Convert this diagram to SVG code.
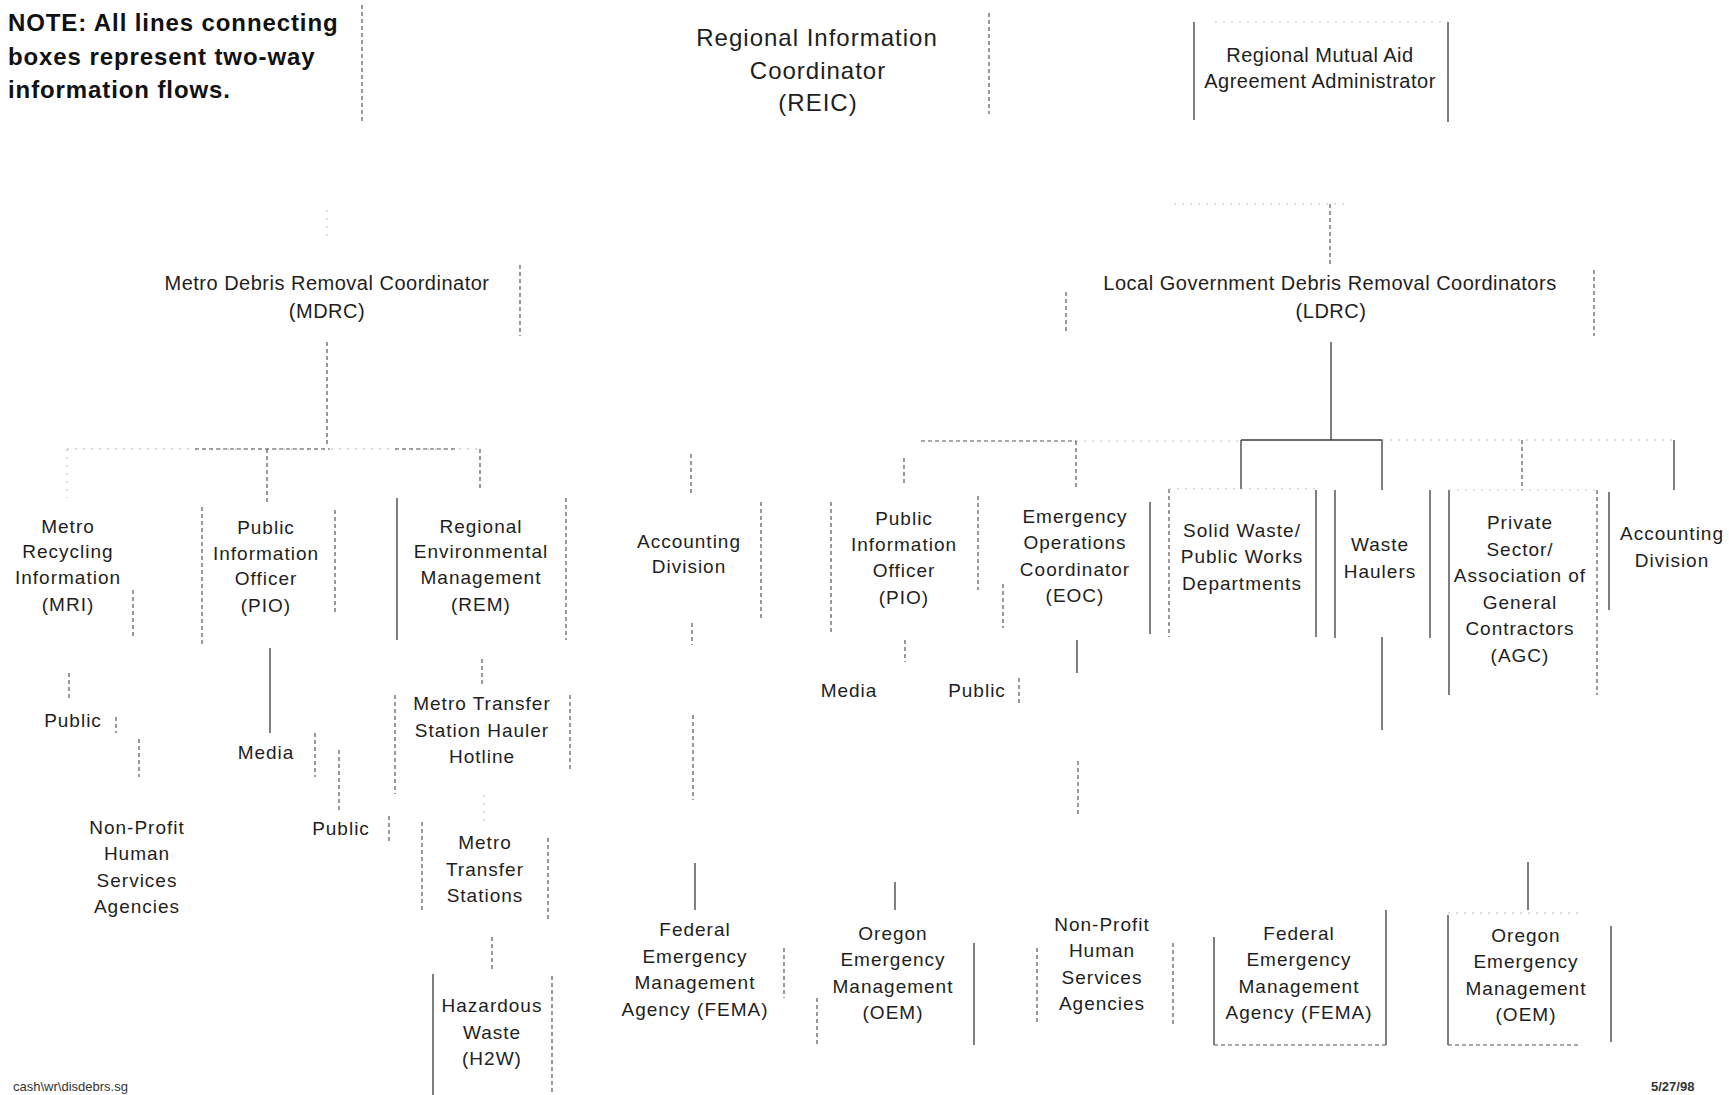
<svg xmlns="http://www.w3.org/2000/svg" width="1729" height="1095" viewBox="0 0 1729 1095">
<style>
.t{font-family:"Liberation Sans",Arial,sans-serif;font-size:19px;letter-spacing:1px;fill:#1e1e1e;text-anchor:middle}
.m{font-size:20px;letter-spacing:0.5px}
.l{font-size:24px;letter-spacing:1px}
.note{font-family:"Liberation Sans",Arial,sans-serif;font-size:24px;font-weight:bold;letter-spacing:0.9px;fill:#111}
.foot{font-family:"Liberation Sans",Arial,sans-serif;font-size:13px;fill:#333}
.e{stroke:#3a3a3a;stroke-width:1.3;fill:none}
.d{stroke:#555;stroke-width:1.2;stroke-dasharray:4 3;fill:none}
.f{stroke:#bbb;stroke-width:1;stroke-dasharray:2 6;fill:none}
</style>
<rect width="1729" height="1095" fill="#fff"/>

<g id="connectors">
<line class="f" x1="327" y1="210" x2="327" y2="240"/>
<line class="d" x1="1330" y1="204" x2="1330" y2="265"/>
<line class="f" x1="1174" y1="204" x2="1345" y2="204"/>
<line class="d" x1="327" y1="342" x2="327" y2="447"/>
<line class="f" x1="67" y1="449" x2="480" y2="449"/>
<line class="d" x1="195" y1="449" x2="330" y2="449"/>
<line class="d" x1="395" y1="449" x2="458" y2="449"/>
<line class="f" x1="67" y1="449" x2="67" y2="498"/>
<line class="d" x1="267" y1="449" x2="267" y2="502"/>
<line class="d" x1="480" y1="449" x2="480" y2="490"/>
<line class="e" x1="1331" y1="342" x2="1331" y2="440"/>
<line class="e" x1="1241" y1="440" x2="1382" y2="440"/>
<line class="e" x1="1241" y1="440" x2="1241" y2="489"/>
<line class="e" x1="1382" y1="440" x2="1382" y2="490"/>
<line class="f" x1="1382" y1="440" x2="1674" y2="440"/>
<line class="d" x1="1522" y1="440" x2="1522" y2="490"/>
<line class="e" x1="1674" y1="440" x2="1674" y2="490"/>
<line class="f" x1="1076" y1="441" x2="1241" y2="441"/>
<line class="d" x1="921" y1="441" x2="1076" y2="441"/>
<line class="d" x1="904" y1="458" x2="904" y2="485"/>
<line class="d" x1="1076" y1="441" x2="1076" y2="488"/>
<line class="d" x1="691" y1="454" x2="691" y2="496"/>
<line class="e" x1="270" y1="648" x2="270" y2="733"/>
<line class="d" x1="339" y1="750" x2="339" y2="812"/>
<line class="d" x1="69" y1="673" x2="69" y2="700"/>
<line class="d" x1="139" y1="739" x2="139" y2="777"/>
<line class="d" x1="482" y1="659" x2="482" y2="684"/>
<line class="f" x1="484" y1="795" x2="484" y2="822"/>
<line class="d" x1="492" y1="937" x2="492" y2="970"/>
<line class="d" x1="692" y1="623" x2="692" y2="645"/>
<line class="d" x1="693" y1="715" x2="693" y2="800"/>
<line class="e" x1="695" y1="863" x2="695" y2="910"/>
<line class="d" x1="905" y1="640" x2="905" y2="662"/>
<line class="e" x1="1077" y1="640" x2="1077" y2="673"/>
<line class="d" x1="1078" y1="761" x2="1078" y2="816"/>
<line class="e" x1="1382" y1="637" x2="1382" y2="730"/>
<line class="e" x1="895" y1="882" x2="895" y2="910"/>
<line class="e" x1="1528" y1="862" x2="1528" y2="910"/>
</g>

<g id="note">
<text class="note" x="8" y="31">NOTE: All lines connecting</text>
<text class="note" x="8" y="65">boxes represent two-way</text>
<text class="note" x="8" y="98">information flows.</text>
<line class="d" x1="362" y1="5" x2="362" y2="121"/>
</g>

<g id="reic">
<text class="t l" x="817" y="46">Regional Information</text>
<text class="t l" x="818" y="79">Coordinator</text>
<text class="t l" x="818" y="111">(REIC)</text>
<line class="d" x1="989" y1="13" x2="989" y2="114"/>
</g>

<g id="rmaa">
<line class="e" x1="1194" y1="22" x2="1194" y2="120"/>
<line class="e" x1="1448" y1="22" x2="1448" y2="122"/>
<line class="f" x1="1215" y1="22" x2="1448" y2="22"/>
<text class="t m" x="1320" y="62">Regional Mutual Aid</text>
<text class="t m" x="1320" y="88">Agreement Administrator</text>
</g>

<g id="mdrc">
<text class="t m" x="327" y="290">Metro Debris Removal Coordinator</text>
<text class="t m" x="327" y="318">(MDRC)</text>
<line class="d" x1="520" y1="265" x2="520" y2="336"/>
</g>

<g id="ldrc">
<text class="t m" x="1330" y="290">Local Government Debris Removal Coordinators</text>
<text class="t m" x="1331" y="318">(LDRC)</text>
<line class="d" x1="1066" y1="292" x2="1066" y2="334"/>
<line class="d" x1="1594" y1="270" x2="1594" y2="336"/>
</g>

<g id="mri">
<text class="t" x="68" y="533">Metro</text>
<text class="t" x="68" y="558">Recycling</text>
<text class="t" x="68" y="584">Information</text>
<text class="t" x="68" y="611">(MRI)</text>
<line class="d" x1="133" y1="590" x2="133" y2="637"/>
</g>

<g id="public-mri">
<text class="t" x="73" y="727">Public</text>
<line class="d" x1="116" y1="717" x2="116" y2="733"/>
</g>

<g id="nonprofit-left">
<text class="t" x="137" y="834">Non-Profit</text>
<text class="t" x="137" y="860">Human</text>
<text class="t" x="137" y="887">Services</text>
<text class="t" x="137" y="913">Agencies</text>
</g>

<g id="pio-left">
<text class="t" x="266" y="534">Public</text>
<text class="t" x="266" y="560">Information</text>
<text class="t" x="266" y="585">Officer</text>
<text class="t" x="266" y="612">(PIO)</text>
<line class="d" x1="202" y1="507" x2="202" y2="645"/>
<line class="d" x1="335" y1="510" x2="335" y2="614"/>
</g>

<g id="media-left">
<text class="t" x="266" y="759">Media</text>
<line class="d" x1="315" y1="733" x2="315" y2="777"/>
</g>

<g id="public-left">
<text class="t" x="341" y="835">Public</text>
<line class="d" x1="389" y1="816" x2="389" y2="843"/>
</g>

<g id="rem">
<text class="t" x="481" y="533">Regional</text>
<text class="t" x="481" y="558">Environmental</text>
<text class="t" x="481" y="584">Management</text>
<text class="t" x="481" y="611">(REM)</text>
<line class="e" x1="397" y1="498" x2="397" y2="640"/>
<line class="d" x1="566" y1="498" x2="566" y2="640"/>
</g>

<g id="hotline">
<text class="t" x="482" y="710">Metro Transfer</text>
<text class="t" x="482" y="737">Station Hauler</text>
<text class="t" x="482" y="763">Hotline</text>
<line class="d" x1="395" y1="695" x2="395" y2="794"/>
<line class="d" x1="570" y1="695" x2="570" y2="772"/>
</g>

<g id="transfer-stations">
<text class="t" x="485" y="849">Metro</text>
<text class="t" x="485" y="876">Transfer</text>
<text class="t" x="485" y="902">Stations</text>
<line class="d" x1="422" y1="822" x2="422" y2="910"/>
<line class="d" x1="548" y1="838" x2="548" y2="921"/>
</g>

<g id="h2w">
<text class="t" x="492" y="1012">Hazardous</text>
<text class="t" x="492" y="1039">Waste</text>
<text class="t" x="492" y="1065">(H2W)</text>
<line class="e" x1="433" y1="974" x2="433" y2="1095"/>
<line class="d" x1="552" y1="976" x2="552" y2="1095"/>
</g>

<g id="accounting-left">
<text class="t" x="689" y="548">Accounting</text>
<text class="t" x="689" y="573">Division</text>
<line class="d" x1="761" y1="502" x2="761" y2="620"/>
</g>

<g id="fema-left">
<text class="t" x="695" y="936">Federal</text>
<text class="t" x="695" y="963">Emergency</text>
<text class="t" x="695" y="989">Management</text>
<text class="t" x="695" y="1016">Agency (FEMA)</text>
<line class="d" x1="784" y1="948" x2="784" y2="998"/>
</g>

<g id="oem-left">
<text class="t" x="893" y="940">Oregon</text>
<text class="t" x="893" y="966">Emergency</text>
<text class="t" x="893" y="993">Management</text>
<text class="t" x="893" y="1019">(OEM)</text>
<line class="d" x1="817" y1="998" x2="817" y2="1045"/>
<line class="e" x1="974" y1="943" x2="974" y2="1045"/>
</g>

<g id="pio-right">
<text class="t" x="904" y="525">Public</text>
<text class="t" x="904" y="551">Information</text>
<text class="t" x="904" y="577">Officer</text>
<text class="t" x="904" y="604">(PIO)</text>
<line class="d" x1="831" y1="502" x2="831" y2="634"/>
<line class="d" x1="978" y1="496" x2="978" y2="590"/>
</g>

<g id="media-right">
<text class="t" x="849" y="697">Media</text>
</g>

<g id="public-right">
<text class="t" x="977" y="697">Public</text>
<line class="d" x1="1019" y1="678" x2="1019" y2="706"/>
</g>

<g id="eoc">
<text class="t" x="1075" y="523">Emergency</text>
<text class="t" x="1075" y="549">Operations</text>
<text class="t" x="1075" y="576">Coordinator</text>
<text class="t" x="1075" y="602">(EOC)</text>
<line class="d" x1="1003" y1="584" x2="1003" y2="628"/>
<line class="e" x1="1150" y1="502" x2="1150" y2="634"/>
</g>

<g id="nonprofit-right">
<text class="t" x="1102" y="931">Non-Profit</text>
<text class="t" x="1102" y="957">Human</text>
<text class="t" x="1102" y="984">Services</text>
<text class="t" x="1102" y="1010">Agencies</text>
<line class="d" x1="1037" y1="948" x2="1037" y2="1025"/>
<line class="d" x1="1173" y1="943" x2="1173" y2="1025"/>
</g>

<g id="solid-waste">
<text class="t" x="1242" y="537">Solid Waste/</text>
<text class="t" x="1242" y="563">Public Works</text>
<text class="t" x="1242" y="590">Departments</text>
<line class="d" x1="1169" y1="489" x2="1169" y2="637"/>
<line class="e" x1="1316" y1="490" x2="1316" y2="637"/>
<line class="f" x1="1169" y1="489" x2="1316" y2="489"/>
</g>

<g id="waste-haulers">
<text class="t" x="1380" y="551">Waste</text>
<text class="t" x="1380" y="578">Haulers</text>
<line class="e" x1="1335" y1="490" x2="1335" y2="638"/>
<line class="e" x1="1430" y1="490" x2="1430" y2="638"/>
</g>

<g id="agc">
<text class="t" x="1520" y="529">Private</text>
<text class="t" x="1520" y="556">Sector/</text>
<text class="t" x="1520" y="582">Association of</text>
<text class="t" x="1520" y="609">General</text>
<text class="t" x="1520" y="635">Contractors</text>
<text class="t" x="1520" y="662">(AGC)</text>
<line class="e" x1="1449" y1="490" x2="1449" y2="695"/>
<line class="d" x1="1597" y1="490" x2="1597" y2="695"/>
<line class="f" x1="1449" y1="490" x2="1597" y2="490"/>
</g>

<g id="accounting-right">
<text class="t" x="1672" y="540">Accounting</text>
<text class="t" x="1672" y="567">Division</text>
<line class="e" x1="1609" y1="492" x2="1609" y2="610"/>
</g>

<g id="fema-right">
<text class="t" x="1299" y="940">Federal</text>
<text class="t" x="1299" y="966">Emergency</text>
<text class="t" x="1299" y="993">Management</text>
<text class="t" x="1299" y="1019">Agency (FEMA)</text>
<line class="e" x1="1214" y1="937" x2="1214" y2="1045"/>
<line class="e" x1="1386" y1="910" x2="1386" y2="1045"/>
<line class="d" x1="1214" y1="1045" x2="1386" y2="1045"/>
</g>

<g id="oem-right">
<text class="t" x="1526" y="942">Oregon</text>
<text class="t" x="1526" y="968">Emergency</text>
<text class="t" x="1526" y="995">Management</text>
<text class="t" x="1526" y="1021">(OEM)</text>
<line class="e" x1="1448" y1="915" x2="1448" y2="1045"/>
<line class="e" x1="1611" y1="926" x2="1611" y2="1042"/>
<line class="d" x1="1448" y1="1045" x2="1580" y2="1045"/>
<line class="f" x1="1448" y1="913" x2="1580" y2="913"/>
</g>

<g id="footer">
<text class="foot" x="13" y="1091">cash\wr\disdebrs.sg</text>
<text class="foot" x="1651" y="1091" font-weight="bold">5/27/98</text>
</g>
</svg>
